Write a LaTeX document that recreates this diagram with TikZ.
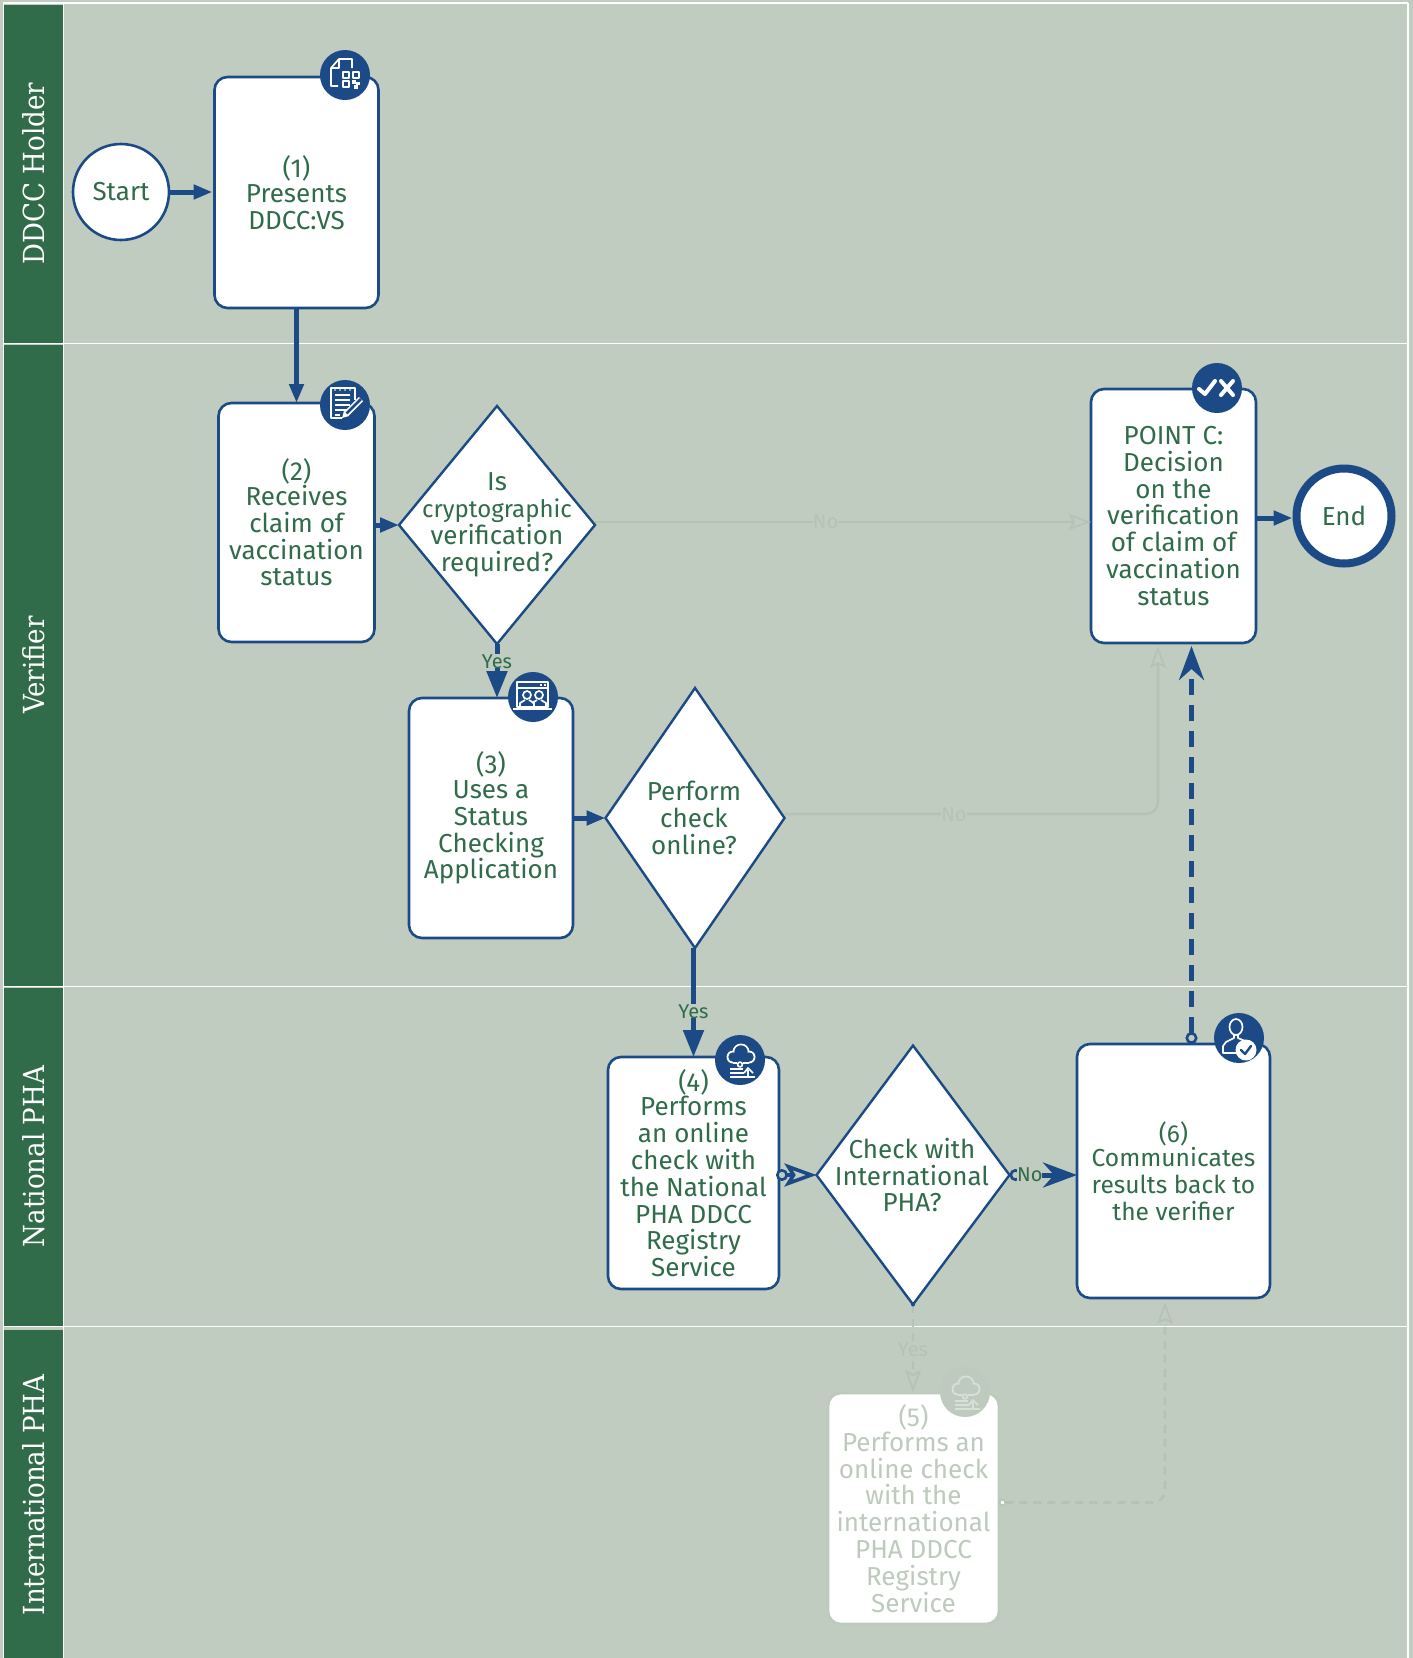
\documentclass[tikz,border=0pt]{standalone}
\usepackage{fontspec}
\setmainfont{Fira Sans}
\newfontfamily\lanefont{DejaVu Serif Condensed}
\usetikzlibrary{arrows.meta,shapes.geometric}
\definecolor{lanebg}{HTML}{C0CCC0}
\definecolor{lanegreen}{HTML}{306C49}
\definecolor{flowblue}{HTML}{1B4A86}
\definecolor{fadeline}{HTML}{B4C3B4}
\definecolor{fadetext}{HTML}{BDCABD}
\definecolor{fadeicon}{HTML}{D8E0D8}
\tikzset{
	boxtext/.style={text=lanegreen, align=center, font=\fontsize{26}{26.8}\selectfont, inner sep=0pt},
	stepbox/.style={boxtext, draw=flowblue, fill=white, line width=2.6pt, rounded corners=13pt, outer sep=0pt},
	fadebox/.style={stepbox, draw=fadetext, text=fadetext},
	event/.style={boxtext, circle, draw=flowblue, fill=white, line width=2.6pt},
	decision/.style={diamond, draw=flowblue, fill=white, line width=2.4pt, inner sep=0pt, outer sep=0pt},
	decisiontext/.style={boxtext},
	badge/.style={circle, fill=flowblue, minimum size=50pt, inner sep=0pt},
	lanehead/.style={fill=lanegreen, text=white, rotate=90, minimum height=59pt, inner sep=0pt, font=\lanefont\fontsize{29}{32}\selectfont},
	laneline/.style={draw=white, line width=1.4pt},
	flow/.style={draw=flowblue, line width=5pt},
	fadeflow/.style={draw=fadeline, line width=2.6pt, rounded corners=12pt},
	flowlabel/.style={text=lanegreen, fill=lanebg, inner sep=0pt, font=\fontsize{20}{22}\selectfont},
	fadelabel/.style={flowlabel, text=fadeline},
	smallhead/.tip={Triangle[length=19pt,width=14pt,color=flowblue]},
	bighead/.tip={Triangle[length=27pt,width=20pt,color=flowblue]},
	barbhead/.tip={Stealth[length=34pt,width=25pt,inset=11pt,color=flowblue]},
	openhead/.tip={Stealth[open,length=32pt,width=23pt,inset=7pt,line width=3.6pt,color=flowblue,fill=lanebg]},
	fadehead/.tip={Stealth[open,length=22pt,width=16pt,inset=4pt,line width=1.8pt,color=fadeline]},
	ringtail/.tip={Circle[open,length=12pt,width=12pt,line width=2.6pt,color=flowblue,fill=lanebg]},
	fadering/.tip={Circle[open,length=7pt,width=7pt,line width=1.4pt,color=fadeline,fill=white]},
	iconline/.style={line width=1.7pt, line join=round},
	pics/qricon/.style={code={
		\draw[white,iconline] (7,-7) -- (7,-16) -- (-6,-16) -- (-14,-7) -- (-14,11) -- (-7,11);
		\draw[white,iconline] (-14,-7) -- (-6,-7) -- (-6,-16);
		\draw[white,iconline] (-2,-3) rectangle (4,3);
		\draw[white,iconline] (8,-3) rectangle (14,3);
		\draw[white,iconline] (-2,6) rectangle (4,12);
		\fill[white] (7,5) rectangle (11,9);
		\fill[white] (11,7) rectangle (15,10);
		\fill[white] (9,10) rectangle (13,14);
	}},
	pics/notesicon/.style={code={
		\draw[white,iconline] (10,-5) -- (10,-17) -- (-14,-17) -- (-14,13) -- (-3,13);
		\foreach \ly in {-10,-5,0,5}
			\draw[white,iconline] (-10,\ly) -- (5,\ly);
		\draw[white,iconline] (-10,10) -- (-5,10);
		\foreach \lx in {-10,-5,0,5}
			\fill[white] (\lx,-15) circle (.9);
		\draw[white,line width=6pt] (1,9) -- (16,-6);
		\draw[flowblue,line width=2.6pt] (1,9) -- (16,-6);
		\fill[white] (-3,13) -- (-1,6) -- (4,11) -- cycle;
	}},
	pics/windowicon/.style={code={
		\draw[white,iconline] (-16,-15) rectangle (15,10);
		\draw[white,iconline] (-16,-9) -- (15,-9);
		\fill[white] (7,-13.5) rectangle (9,-11);
		\fill[white] (11,-13.5) rectangle (13,-11);
		\draw[white,iconline] (-6,-2) circle (4);
		\draw[white,iconline] (6,-2) circle (4);
		\draw[white,iconline] (-13,9) -- (-13,6) -- (-8,3);
		\draw[white,iconline] (-4,3) -- (1,6) -- (1,9);
		\draw[white,iconline] (-1,6) -- (4,3);
		\draw[white,iconline] (8,3) -- (13,6) -- (13,9);
		\draw[white,line width=2pt] (-20,11.5) -- (19,11.5);
	}},
	pics/cloudicon/.style 2 args={code={
		\fill[#1] (-7,-3) circle (6.5);
		\fill[#1] (1,-8) circle (8.5);
		\fill[#1] (9,-3) circle (6.5);
		\fill[#1] (-7,-3.5) rectangle (9,3.5);
		\fill[#2] (-7,-3) circle (4.7);
		\fill[#2] (1,-8) circle (6.7);
		\fill[#2] (9,-3) circle (4.7);
		\fill[#2] (-7,-3.5) rectangle (9,1.7);
		\fill[#2] (-3,2) rectangle (3,6);
		\draw[#1,iconline] (0,4.5) circle (2.4);
		\draw[#1,iconline] (-10,9) -- (3,9);
		\draw[#1,iconline] (-10,13) -- (4,13);
		\draw[#1,iconline] (-10,17) -- (15,17);
		\draw[#1,iconline] (8,16) -- (8,10);
		\draw[#1,iconline] (4,13) -- (8,8) -- (13,13);
	}},
	pics/usericon/.style={code={
		\draw[white,iconline] (-3,-11) ellipse (6.5 and 8);
		\draw[white,iconline] (-5,-3) -- (-5,0) -- (-13,4) -- (-16,8) -- (-16,15) -- (-1,15);
		\draw[white,iconline] (-1,-3) -- (-1,0) -- (6,3);
		\fill[white] (7,12) circle (10.5);
		\draw[flowblue,line width=2.4pt,line cap=round,line join=round] (2,12) -- (6,16) -- (12,8);
	}},
	pics/checkxicon/.style={code={
		\draw[white,line width=4pt,line cap=round,line join=round] (-18,1) -- (-12,6) -- (-2,-7);
		\draw[white,line width=4pt,line cap=round] (4,-7) -- (16,7);
		\draw[white,line width=4pt,line cap=round] (16,-7) -- (4,7);
	}}
}
\begin{document}
\begin{tikzpicture}[x=1pt,y=-1pt]
	\useasboundingbox (0,0) rectangle (1413,1658);
	\fill[lanebg] (0,0) rectangle (1413,1658);

	\node[lanehead, minimum width=338pt] (holder) at (33.5,173.5) {DDCC Holder};
	\node[lanehead, minimum width=641pt] (verifier) at (33.5,665) {Verifier};
	\node[lanehead, minimum width=338pt] (national) at (33.5,1156.5) {National PHA};
	\node[lanehead, minimum width=331pt] (international) at (33.5,1495) {International PHA};
	\draw[laneline] (3,3) -- (1408,3);
	\draw[laneline] (3,343.5) -- (1408,343.5);
	\draw[laneline] (3,986.5) -- (1408,986.5);
	\draw[laneline] (3,1326.5) -- (1408,1326.5);
	\draw[laneline] (3.2,3) -- (3.2,1658);
	\draw[laneline] (63.7,3) -- (63.7,1658);
	\draw[laneline] (1408,3) -- (1408,1658);

	\node[event, minimum size=96pt] (start) at (121,192) {Start};
	\node[stepbox, minimum width=164pt, minimum height=231pt] (step1) at (296.5,192.5) {(1)\\[-2pt]Presents\\DDCC:VS};
	\node[stepbox, minimum width=156pt, minimum height=239pt] (step2) at (296.5,522.5) {(2)\\[-2pt]Receives\\claim of\\vaccination\\status};
	\node[decision, minimum width=196pt, minimum height=238pt] (crypto) at (497,525) {};
	\node[decisiontext] (cryptotext) at (497,525) {Is\\{\fontsize{24}{26.8}\selectfont cryptographic}\\verification\\required?};
	\node[stepbox, minimum width=164pt, minimum height=240pt] (step3) at (491,818) {(3)\\[-2pt]Uses a\\Status\\Checking\\Application};
	\node[decision, minimum width=179pt, minimum height=260pt] (online) at (695,818) {};
	\node[decisiontext] (onlinetext) at (694,818) {Perform\\check\\online?};
	\node[stepbox, minimum width=171pt, minimum height=232pt] (step4) at (693.5,1173) {(4)\\[-2pt]Performs\\an online\\check with\\the National\\PHA DDCC\\Registry\\Service};
	\node[decision, minimum width=193pt, minimum height=259pt] (intl) at (913,1175) {};
	\node[decisiontext] (intltext) at (912,1175) {Check with\\International\\PHA?};
	\node[stepbox, minimum width=193pt, minimum height=254pt, font=\fontsize{24.6}{26.8}\selectfont] (step6) at (1173.5,1171) {(6)\\[-2pt]Communicates\\results back to\\the verifier};
	\node[fadebox, minimum width=171pt, minimum height=231pt] (step5) at (913.5,1508.5) {(5)\\[-2pt]Performs an\\online check\\with the\\international\\PHA DDCC\\Registry\\Service};
	\node[stepbox, minimum width=165pt, minimum height=254pt] (pointc) at (1173.5,516) {POINT C:\\Decision\\on the\\verification\\of claim of\\vaccination\\status};
	\node[event, minimum size=95pt, line width=8pt] (end) at (1344,516) {End};

	\draw[fadeflow, -{fadehead}] ([yshift=3pt]crypto.east) -- node[fadelabel, pos=.465] {No} ([yshift=-6pt]pointc.west);
	\draw[fadeflow, -{fadehead}] ([yshift=4pt]online.east) -- ([xshift=-15.5pt,yshift=4pt]online.east -| pointc.south) -- ([xshift=-15.5pt,yshift=-3pt]pointc.south);
	\node[fadelabel] (nolabel) at (954,814.5) {No};
	\draw[fadeflow, dash pattern=on 8pt off 6pt, -{fadehead}] (intl.south) -- node[fadelabel, pos=.52] {Yes} ([yshift=1pt]intl.south |- step5.north);
	\draw[fadeflow, dash pattern=on 8pt off 6pt, {fadering}-{fadehead}] ([yshift=6pt]step5.east) -- ([xshift=-8.5pt,yshift=6pt]step5.east -| step6.south) -- ([xshift=-8.5pt,yshift=-4pt]step6.south);

	\draw[flow, -{smallhead}, shorten >=2pt] (start) -- (step1.west |- start);
	\draw[flow, -{smallhead}] (step1.south) -- (step1.south |- step2.north);
	\draw[flow, -{smallhead}] (crypto.west -| step2.east) -- (crypto.west);
	\draw[flow, -{bighead}] (crypto.south) -- node[flowlabel, pos=.32] {Yes} (crypto.south |- step3.north);
	\draw[flow, -{smallhead}] (online.west -| step3.east) -- (online.west);
	\draw[flow, -{bighead}] (step4.north |- online.south) -- node[flowlabel, pos=.58] {Yes} (step4.north);
	\draw[flow, {ringtail}-{openhead}, line width=3.4pt] ([xshift=-3pt]intl.west -| step4.east) -- (intl.west);
	\draw[flow, {ringtail}-{barbhead}] (intl.east) -- node[flowlabel, pos=.3] {No} (intl.east -| step6.west);
	\draw[flow, dash pattern=on 16pt off 10pt, {ringtail}-{barbhead}] ([xshift=18pt]step6.north) -- ([xshift=18pt,yshift=-3pt]pointc.south);
	\draw[flow, -{smallhead}] ([yshift=-2pt]pointc.east) -- ([yshift=-2pt]end.west);
	\fill[flowblue] (intl.south) circle (2);

	\node[badge] (badge1) at (345,75) {};
	\node[badge] (badge2) at (345,405) {};
	\node[badge] (badge3) at (533,697) {};
	\node[badge] (badge4) at (740,1060) {};
	\node[badge, fill=fadetext] (badge5) at (965,1392) {};
	\node[badge] (badge6) at (1239,1038) {};
	\node[badge] (badgec) at (1217,388) {};
	\pic at (badge1) {qricon};
	\pic at (badge2) {notesicon};
	\pic at (badge3) {windowicon};
	\pic at (badge4) {cloudicon={white}{flowblue}};
	\pic at (badge5) {cloudicon={fadeicon}{fadetext}};
	\pic at (badge6) {usericon};
	\pic at (badgec) {checkxicon};
\end{tikzpicture}
\end{document}
